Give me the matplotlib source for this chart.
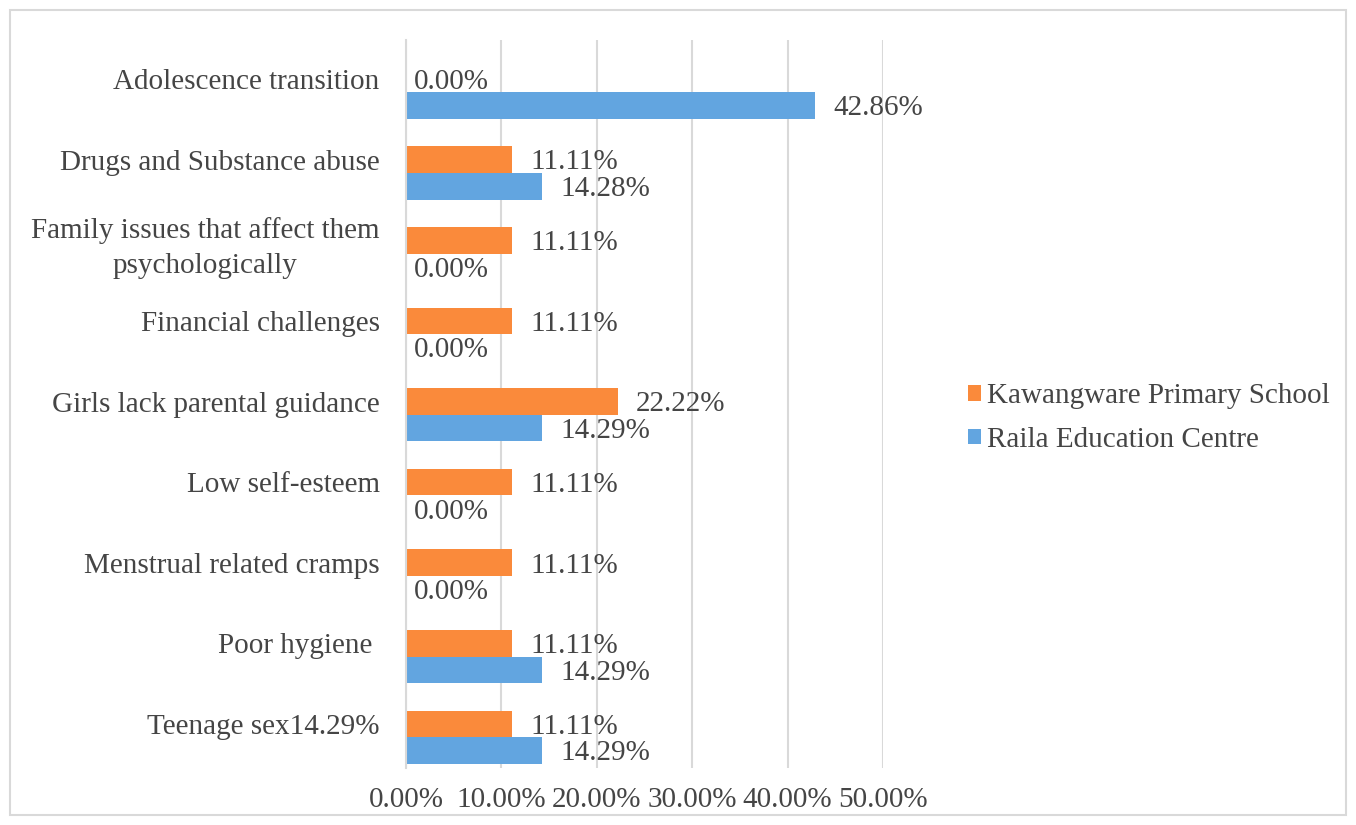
import numpy as np
import matplotlib
matplotlib.use("Agg")
import matplotlib.pyplot as plt
from matplotlib.patches import Rectangle

plt.rcParams['font.family'] = ['Liberation Serif', 'DejaVu Serif']

categories = ["Adolescence transition", "Drugs and Substance abuse",
              "Family issues that affect them\npsychologically", "Financial challenges",
              "Girls lack parental guidance", "Low self-esteem",
              "Menstrual related cramps", "Poor hygiene ", "Teenage sex14.29%"]
kawangware = [0.00, 11.11, 11.11, 11.11, 22.22, 11.11, 11.11, 11.11, 11.11]
raila = [42.86, 14.28, 0.00, 0.00, 14.29, 0.00, 0.00, 14.29, 14.29]
series_names = ["Kawangware Primary School", "Raila Education Centre"]
ticks = [0, 10, 20, 30, 40, 50]

orange = '#FA8A3B'
blue = '#62A5E0'
txt = '#454545'
fs = 21

fig = plt.figure(figsize=(13.56, 8.25), dpi=100)
ax = fig.add_axes([406/1356, 1-768/825, (883-406)/1356, (768-40)/825])

y = np.arange(len(categories))
h = 0.33
b1 = ax.barh(y, kawangware, height=h, color=orange, label=series_names[0])
b2 = ax.barh(y + h, raila, height=h, color=blue, label=series_names[1])

for bars, vals in ((b1, kawangware), (b2, raila)):
    for bar, v in zip(bars, vals):
        off = 8 if v == 0 else 18
        ax.annotate(f"{v:.2f}%", (v, bar.get_y() + bar.get_height()/2),
                    xytext=(off*0.72, -2), textcoords='offset points',
                    va='center', ha='left', fontsize=fs, color=txt,
                    annotation_clip=False)

ax.set_xlim(0, 50)
ax.set_ylim(8.545, -0.483)
ax.set_xticks(ticks)
ax.set_xticklabels([f"{t:.2f}%" for t in ticks], fontsize=fs, color=txt)
ax.set_yticks(y)
ax.set_yticklabels(categories, fontsize=fs, color=txt)
for lab in ax.get_yticklabels():
    lab.set_multialignment('center')
    lab.set_linespacing(1.45)
ax.tick_params(axis='both', length=0)
ax.tick_params(axis='y', pad=19)
ax.tick_params(axis='x', pad=14)
ax.xaxis.grid(True, color='#D9D9D9', linewidth=1.5)
ax.set_axisbelow(True)
for s in ['top', 'right', 'bottom']:
    ax.spines[s].set_visible(False)
ax.spines['left'].set_color('#D9D9D9')
ax.spines['left'].set_linewidth(1.5)

fig.legend(handles=[b1, b2], loc='center left',
           bbox_to_anchor=(968/1356, 1-418/825), frameon=False,
           fontsize=fs, labelcolor=txt, handlelength=0.45, handleheight=0.45,
           handletextpad=0.2, labelspacing=0.6, borderpad=0, borderaxespad=0)

fig.patches.append(Rectangle((10/1356, 10/825), 1336/1356, 805/825,
                             transform=fig.transFigure, fill=False,
                             edgecolor='#D9D9D9', linewidth=1.5))

fig.savefig("out.png", dpi=100)
